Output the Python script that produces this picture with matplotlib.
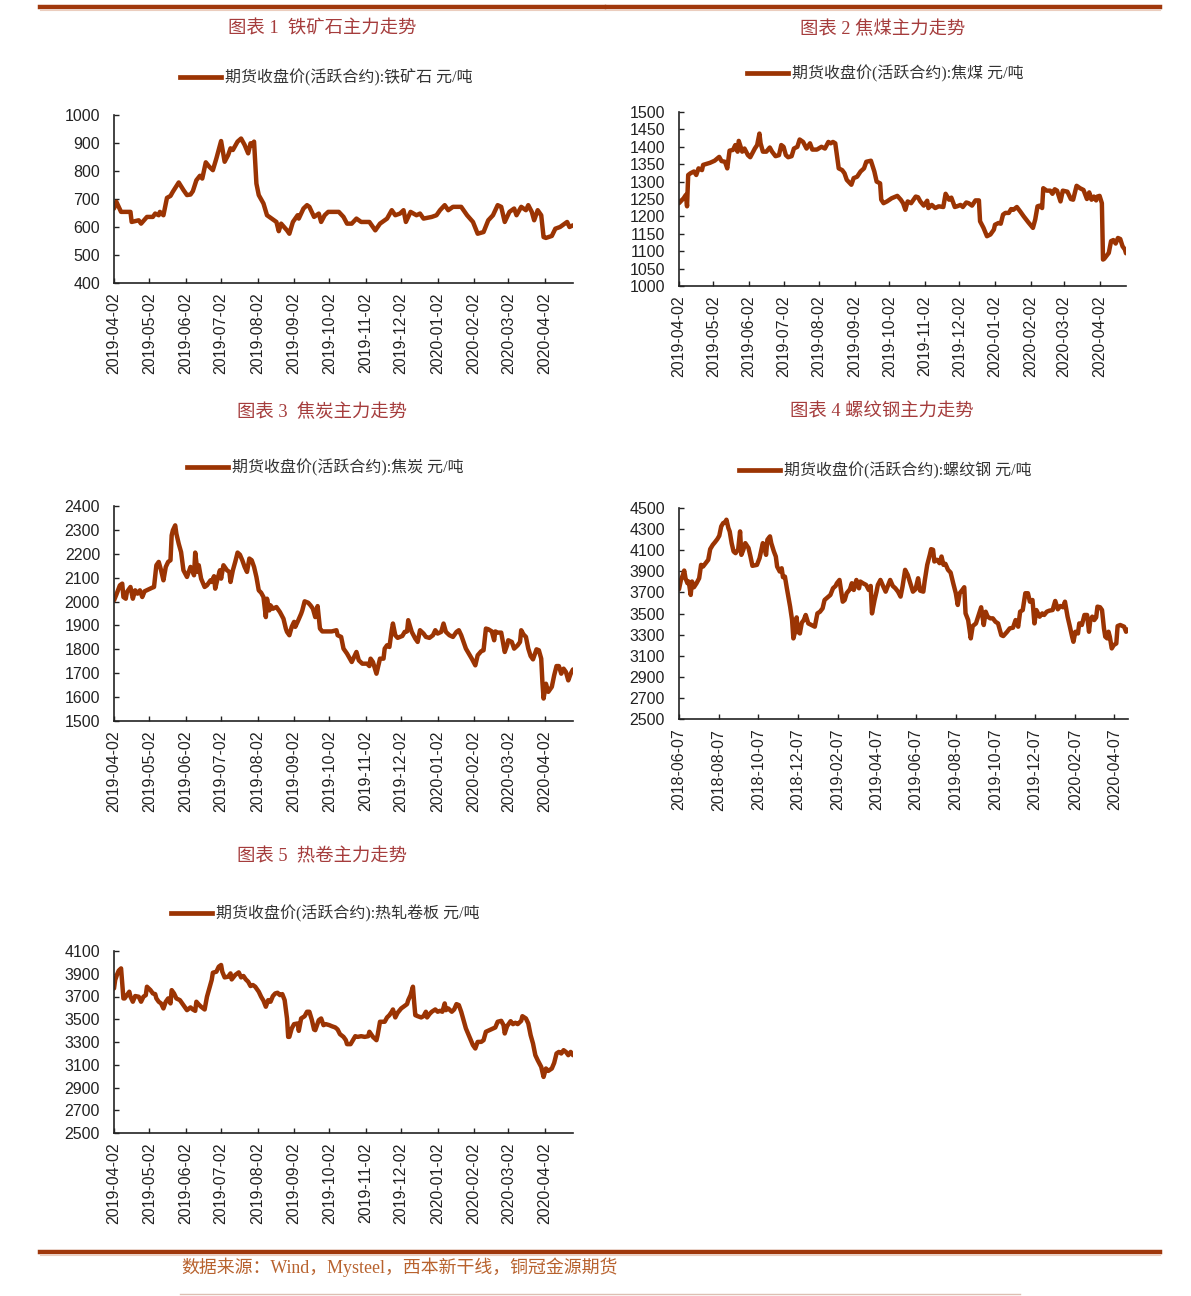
import matplotlib
matplotlib.use("Agg")
import matplotlib.pyplot as plt
import pandas as pd
from matplotlib.lines import Line2D
from matplotlib.font_manager import FontProperties

# ---------------- data ----------------
start_2019 = "2019-04-02"
start_rebar = "2018-06-07"

iron_days = [0,2,6,14,15,21,23,28,33,35, 38,39,42,45,48,50,55,59,62,65,
             67,70,73,75,78,81,84,87,91,94, 97,99,101,105,108,111,114,116,117,119,
             121,123,127,130,134,138,140,142,147,149, 152,156,157,161,164,166,170,174,176,179,
             182,191,195,198,202,206,210,217,222,226, 232,236,239,243,246,248,252,257,260,263,
             270,274,277,281,284,288,295,300,305,309, 314,318,322,326,329,332,336,340,342,346,
             350,352,355,357,360,363,365,367,372,375, 379,383,385,387,390]
iron_vals = [666,690,654,654,618,624,612,636,636,648, 642,654,642,704,711,726,759,732,714,716,
             728,767,783,773,831,815,803,845,907,833, 857,881,875,905,916,893,863,899,890,905,
             755,714,684,642,630,618,585,612,588,576, 618,642,630,666,678,672,636,648,618,642,
             654,654,636,612,612,630,618,618,588,612, 630,660,642,648,660,618,654,642,648,630,
             636,642,660,678,660,672,672,642,618,576, 582,624,642,678,672,618,654,666,642,672,
             660,678,654,624,660,642,564,561,568,594, 600,612,618,600,606]

coal_days = [0,4,6,7,8,10,13,15,17,20, 21,24,27,31,35,37,40,42,44,47,
             49,51,52,55,57,60,62,66,68,70, 71,73,76,79,81,84,87,89,91,93,
             95,98,100,103,105,108,111,114,116,120, 124,127,130,132,134,136,139,142,144,146,
             150,152,155,158,161,163,167,170,172,175, 176,178,181,185,190,193,195,197,199,202,
             206,208,210,213,216,217,220,223,226,230, 232,235,237,240,242,245,247,250,252,255,
             258,261,262,265,268,271,274,275,278,280, 282,284,287,289,291,294,297,300,304,308,
             310,312,314,316,317,320,323,325,327,329, 332,334,338,341,343,346,349,352,355,357,
             359,361,363,364,366,368,369,370,374,376, 378,380,382,384,386,388,389]
coal_vals = [1238,1252,1262,1229,1319,1324,1329,1319,1338,1333, 1348,1351,1354,1360,1371,1359,1357,1338,1389,1391,
             1405,1386,1417,1386,1395,1376,1370,1395,1405,1438, 1410,1386,1386,1398,1386,1373,1376,1405,1400,1376,
             1370,1373,1395,1400,1421,1414,1395,1410,1392,1392, 1400,1395,1414,1410,1414,1410,1338,1333,1324,1305,
             1291,1310,1314,1329,1338,1357,1360,1329,1300,1295, 1248,1238,1243,1252,1259,1248,1238,1219,1243,1238,
             1257,1255,1243,1231,1245,1224,1233,1224,1229,1227, 1265,1248,1254,1227,1229,1233,1227,1240,1238,1231,
             1246,1246,1186,1167,1143,1148,1162,1176,1181,1179, 1205,1210,1210,1221,1219,1227,1214,1200,1183,1167,
             1191,1229,1231,1224,1281,1274,1274,1265,1278,1274, 1243,1274,1271,1250,1248,1288,1281,1276,1250,1269,
             1248,1257,1246,1257,1259,1238,1076,1078,1095,1129, 1132,1122,1138,1135,1114,1105,1094]

coke_days = [0,2,5,7,8,10,11,14,16,18, 20,22,24,26,29,32,34,36,38,40,
             42,44,46,48,49,50,52,53,55,57, 59,62,65,67,68,69,71,72,74,77,
             79,82,83,85,86,88,90,91,93,96, 98,99,101,103,105,107,109,111,113,115,
             117,119,121,123,125,127,129,130,132,133, 135,138,141,144,146,147,149,151,153,154,
             156,159,160,162,165,167,169,171,173,175, 177,181,185,189,190,193,195,198,202,204,
             206,208,211,215,217,218,220,223,226,229, 230,232,234,236,237,239,241,245,247,249,
             250,253,256,258,260,263,265,268,271,273, 275,278,280,282,285,288,291,293,295,297,
             299,304,307,309,312,314,316,318,321,323, 324,326,329,332,334,335,338,340,343,345,
             346,348,350,352,354,356,359,361,363,364, 365,367,369,372,374,376,378,380,382,384,
             386,388,390]
coke_vals = [2005,2029,2068,2075,2019,2012,2040,2061,2012,2047, 2033,2047,2019,2043,2050,2057,2061,2152,2166,2131,
             2089,2145,2166,2173,2277,2298,2319,2284,2242,2207, 2131,2103,2145,2124,2110,2205,2124,2152,2096,2061,
             2068,2089,2082,2106,2054,2096,2131,2096,2152,2131, 2124,2082,2131,2166,2205,2196,2173,2145,2124,2180,
             2173,2145,2103,2047,2037,2019,1935,2012,1963,1984, 1970,1977,1956,1928,1887,1873,1859,1894,1915,1894,
             1915,1949,1963,2001,1995,1984,1970,1935,1981,1887, 1875,1875,1875,1880,1859,1852,1803,1782,1747,1768,
             1789,1754,1740,1740,1730,1761,1747,1698,1761,1761, 1803,1817,1810,1880,1908,1859,1848,1856,1873,1875,
             1922,1873,1845,1831,1880,1866,1852,1848,1859,1880, 1866,1873,1908,1873,1859,1852,1873,1880,1859,1831,
             1803,1761,1733,1775,1792,1796,1887,1884,1875,1838, 1875,1870,1870,1789,1817,1838,1831,1803,1817,1831,
             1880,1862,1852,1803,1772,1758,1800,1796,1761,1663, 1594,1656,1622,1643,1691,1730,1730,1698,1719,1705,
             1670,1698,1716]

rebar_days = [0,3,6,8,10,13,15,18,20,23, 27,31,34,37,41,45,48,52,55,59,
              62,65,68,71,73,76,78,81,84,87, 91,94,96,99,102,107,110,113,120,124,
              129,131,134,136,140,142,146,149,151,155, 158,160,163,166,171,174,176,178,181,183,
              186,189,192,195,199,204,209,213,217,221, 224,230,233,237,241,243,247,252,255,258,
              263,266,269,273,277,279,283,288,292,295, 297,301,304,306,310,314,318,322,325,329,
              333,337,341,344,348,352,356,360,364,368, 371,376,378,382,386,388,391,393,397,401,
              404,407,410,414,418,422,426,429,432,436, 439,441,445,449,452,457,462,465,469,472,
              475,479,483,487,491,496,499,505,509,514, 518,522,525,529,533,537,540,544,547,550,
              555,559,562,566,570,575,579,583,587,591, 594,598,601,605,607,610,614,616,620,624,
              628,631,633,636,639,642,644,648,651,654, 656,659,661,663,666,669,673,675,679,683,
              685,688,691]
rebar_vals = [3730,3818,3866,3907,3834,3787,3803,3676,3803,3749, 3787,3834,3961,3945,3977,4009,4110,4151,4173,4205,
              4237,4326,4357,4364,4389,4310,4278,4167,4088,4072, 4104,4278,4056,4104,4167,4120,4040,3952,3961,4025,
              4167,4135,4056,4199,4231,4167,4088,4040,3945,3898, 3929,3844,3850,3739,3565,3438,3264,3311,3463,3327,
              3311,3413,3438,3486,3406,3391,3375,3501,3517,3549, 3628,3660,3676,3739,3761,3787,3818,3612,3628,3692,
              3730,3787,3723,3818,3739,3803,3787,3771,3723,3761, 3501,3628,3707,3771,3818,3761,3707,3771,3818,3761,
              3739,3707,3660,3755,3914,3866,3787,3707,3730,3834, 3717,3707,3803,3961,4056,4110,4104,3993,4009,3977,
              4040,3961,3971,3914,3888,3787,3692,3581,3692,3723, 3749,3501,3438,3264,3381,3406,3501,3559,3391,3517,
              3470,3454,3454,3422,3406,3295,3286,3327,3359,3365, 3438,3375,3517,3533,3692,3692,3612,3628,3406,3533,
              3470,3501,3486,3517,3527,3533,3619,3540,3571,3559, 3612,3470,3391,3280,3232,3327,3311,3406,3391,3486,
              3486,3327,3438,3470,3438,3463,3565,3559,3533,3359, 3280,3264,3327,3280,3169,3200,3216,3381,3391,3381,
              3375,3327,3349]

hc_days = [0,1,3,4,6,7,8,9,11,13, 14,16,18,21,23,25,27,28,31,33,
           35,36,38,40,42,44,46,48,49,51, 53,56,58,60,62,65,67,69,70,72,
           74,77,79,81,83,84,87,89,91,92, 94,97,99,100,103,106,108,110,112,114,
           116,118,120,123,125,127,129,131,133,135, 137,139,141,143,145,147,148,149,151,153,
           156,157,159,162,164,166,168,170,171,174, 176,178,180,183,185,188,190,192,195,197,
           198,201,203,205,207,210,213,216,217,220, 223,224,226,228,230,232,234,236,237,239,
           241,244,246,249,250,252,254,255,256,258, 261,263,265,266,268,270,273,275,277,279,
           281,282,284,287,289,291,293,295,297,299, 302,305,307,309,312,314,316,319,322,324,
           326,329,331,332,334,337,339,341,343,346, 347,350,352,354,356,358,360,363,364,365,
           367,369,372,374,376,378,380,382,384,386, 388,390]
hc_vals = [3771,3845,3903,3927,3947,3815,3683,3683,3712,3742, 3698,3654,3704,3698,3654,3698,3712,3786,3756,3727,
           3721,3683,3654,3639,3595,3654,3683,3639,3756,3727, 3683,3668,3639,3610,3580,3604,3586,3574,3654,3630,
           3610,3586,3698,3771,3845,3909,3918,3962,3977,3918, 3868,3874,3903,3850,3889,3912,3868,3880,3850,3830,
           3792,3801,3786,3742,3698,3663,3610,3668,3654,3704, 3727,3733,3712,3721,3668,3507,3345,3345,3419,3457,
           3463,3398,3507,3527,3566,3566,3498,3410,3404,3492, 3507,3448,3457,3448,3439,3428,3410,3369,3345,3316,
           3281,3281,3316,3351,3345,3351,3345,3351,3390,3345, 3316,3360,3478,3478,3478,3516,3536,3566,3586,3516,
           3557,3595,3610,3633,3668,3712,3786,3654,3536,3527, 3516,3527,3566,3516,3545,3566,3586,3566,3574,3566,
           3639,3580,3595,3566,3586,3633,3624,3566,3492,3419, 3345,3272,3243,3301,3301,3316,3390,3404,3419,3428,
           3478,3486,3448,3375,3439,3483,3457,3469,3457,3486, 3527,3507,3463,3360,3287,3184,3140,3081,3037,2993,
           3067,3046,3067,3116,3199,3213,3199,3228,3213,3184, 3213,3184]

ticks_2019 = ["2019-04-02","2019-05-02","2019-06-02","2019-07-02","2019-08-02","2019-09-02",
              "2019-10-02","2019-11-02","2019-12-02","2020-01-02","2020-02-02","2020-03-02","2020-04-02"]
ticks_rebar = ["2018-06-07","2018-08-07","2018-10-07","2018-12-07","2019-02-07","2019-04-07",
               "2019-06-07","2019-08-07","2019-10-07","2019-12-07","2020-02-07","2020-04-07"]

iron_yticks = [400,500,600,700,800,900,1000]
coal_yticks = [1000,1050,1100,1150,1200,1250,1300,1350,1400,1450,1500]
coke_yticks = [1500,1600,1700,1800,1900,2000,2100,2200,2300,2400]
rebar_yticks = [2500,2700,2900,3100,3300,3500,3700,3900,4100,4300,4500]
hc_yticks = [2500,2700,2900,3100,3300,3500,3700,3900,4100]

titles = ["图表 1  铁矿石主力走势", "图表 2 焦煤主力走势", "图表 3  焦炭主力走势",
          "图表 4 螺纹钢主力走势", "图表 5  热卷主力走势"]
legend_labels = ["期货收盘价(活跃合约):铁矿石 元/吨", "期货收盘价(活跃合约):焦煤 元/吨",
                 "期货收盘价(活跃合约):焦炭 元/吨", "期货收盘价(活跃合约):螺纹钢 元/吨",
                 "期货收盘价(活跃合约):热轧卷板 元/吨"]
source_text = "数据来源：Wind，Mysteel，西本新干线，铜冠金源期货"

# ---------------- styling / layout ----------------
W, H = 1191, 1296
LINE = "#9B3403"
TITLE_C = "#A53C3C"
RULE_C = "#A0380C"
SRC_C = "#B8622E"
CJK = ["Liberation Serif", "Noto Sans CJK SC"]
NUM = "Liberation Sans"

fig = plt.figure(figsize=(W / 100, H / 100), dpi=100)
fig.patch.set_facecolor("white")


def fx(px):
    return px / W


def fy(py):
    return 1 - py / H


panels = [
    # box(left, top, right, bottom), start, days, vals, yticks, ticklabels, title pos, legend pos
    ((114, 115, 573, 283), start_2019, iron_days, iron_vals, iron_yticks, ticks_2019, (322, 29), (326, 78)),
    ((679, 112, 1126, 286), start_2019, coal_days, coal_vals, coal_yticks, ticks_2019, (883, 29), (885, 74)),
    ((114, 506, 573, 721), start_2019, coke_days, coke_vals, coke_yticks, ticks_2019, (322, 412), (325, 468)),
    ((679, 508, 1128, 719), start_rebar, rebar_days, rebar_vals, rebar_yticks, ticks_rebar, (882, 412), (885, 471)),
    ((114, 951, 573, 1133), start_2019, hc_days, hc_vals, hc_yticks, ticks_2019, (322, 857), (325, 914)),
]

for i, (box, start, days, vals, yt, tl, tpos, lpos) in enumerate(panels):
    l, t, r, b = box
    ax = fig.add_axes([fx(l), fy(b), (r - l) / W, (b - t) / H])
    dates = pd.Timestamp(start) + pd.to_timedelta(days, unit="D")
    ax.plot(dates, vals, color=LINE, lw=3.2, solid_joinstyle="round", solid_capstyle="round")
    ax.set_xlim(dates[0], dates[-1])
    ax.set_ylim(yt[0], yt[-1])
    ax.set_yticks(yt)
    ax.set_yticklabels([str(v) for v in yt], fontfamily=NUM, fontsize=11.5)
    ax.set_xticks(pd.to_datetime(tl))
    ax.set_xticklabels(tl, rotation=90, fontfamily=NUM, fontsize=11.5, ha="center", va="top")
    ax.tick_params(axis="both", direction="in", length=3.6, width=1.0, colors="#222222")
    ax.tick_params(axis="y", pad=10)
    ax.tick_params(axis="x", pad=7)
    for s in ("top", "right"):
        ax.spines[s].set_visible(False)
    for s in ("left", "bottom"):
        ax.spines[s].set_linewidth(1.2)
        ax.spines[s].set_color("#222222")
    ax.set_facecolor("none")

    fig.text(fx(tpos[0]), fy(tpos[1]), titles[i], ha="center", va="center",
             color=TITLE_C, fontsize=13.2, family=CJK)

    h = Line2D([], [], color=LINE, lw=3.4)
    ax.legend(handles=[h], labels=[legend_labels[i]], loc="center",
              bbox_to_anchor=(fx(lpos[0]), fy(lpos[1])), bbox_transform=fig.transFigure,
              frameon=False, prop=FontProperties(family=CJK, size=11.5),
              handlelength=2.6, handletextpad=0.2, borderpad=0, borderaxespad=0,
              labelcolor="#333333")

# top and bottom rules
fig.add_artist(Line2D([fx(40), fx(604)], [fy(7), fy(7)], color=RULE_C, lw=3.2))
fig.add_artist(Line2D([fx(607), fx(1160)], [fy(7), fy(7)], color=RULE_C, lw=3.2))
fig.add_artist(Line2D([fx(40), fx(1160)], [fy(10), fy(10)], color="#EBCDBE", lw=0.8))
fig.add_artist(Line2D([fx(40), fx(1160)], [fy(1252), fy(1252)], color=RULE_C, lw=3.2))
fig.add_artist(Line2D([fx(40), fx(1160)], [fy(1255), fy(1255)], color="#EBCDBE", lw=0.8))
fig.add_artist(Line2D([fx(180), fx(1020)], [fy(1294), fy(1294)], color="#DDBFB2", lw=1.0))

fig.text(fx(181), fy(1267), source_text, ha="left", va="center", color=SRC_C,
         fontsize=12.9, family=CJK)

fig.savefig("out.png", dpi=100, facecolor="white")
